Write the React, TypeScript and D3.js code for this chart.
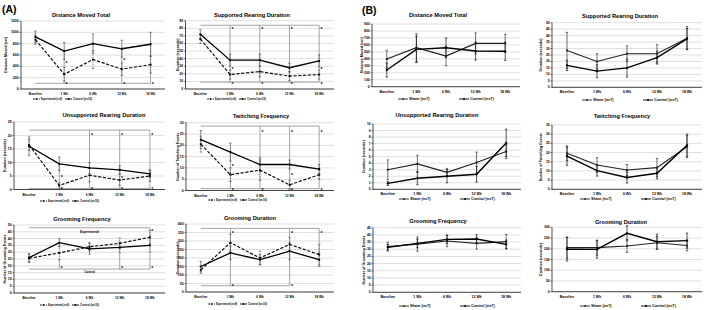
import React from "react";
import * as d3 from "d3";

const categories = ["Baseline", "1 Wk", "6 Wk", "12 Wk", "18 Wk"];
const legendA = ["Experimental (n=8)", "Control (n=10)"];
const legendB = ["Sham (n=7)", "Control (n=7)"];
const titles = [
  "Distance Moved Total",
  "Supported Rearing Duration",
  "Unsupported Rearing Duration",
  "Twitching Frequency",
  "Grooming Frequency",
  "Grooming Duration",
];
const yTitles = [
  "Distance Moved (cm)",
  "Duration (seconds)",
  "Duration (seconds)",
  "Number of Twitching Events",
  "Number of Grooming Events",
  "Duration (seconds)",
];

const aYMax = [1200, 90, 25, 30, 50, 400];
const aYStep = [200, 10, 5, 5, 5, 50];
const bYMax = [900, 50, 10, 35, 45, 300];
const bYStep = [100, 5, 1, 5, 5, 50];

// ---- Part A: Experimental vs Control ----
const distExpMean = [870, 260, 520, 350, 430];
const distExpErr = [80, 120, 160, 110, 150];
const distCtlMean = [920, 670, 800, 710, 790];
const distCtlErr = [100, 150, 170, 150, 210];

const supExpMean = [66, 19, 23, 17, 19];
const supExpErr = [6, 6, 7, 6, 6];
const supCtlMean = [72, 38, 38, 28, 37];
const supCtlErr = [6, 8, 8, 6, 8];

const unsExpMean = [16.5, 1.5, 5.3, 3.5, 5];
const unsExpErr = [2, 1, 2.5, 2, 2];
const unsCtlMean = [16, 9.5, 8, 7.3, 5.8];
const unsCtlErr = [3.5, 2.5, 2, 1.5, 1.5];

const twExpMean = [20.5, 7, 9, 2.5, 7];
const twExpErr = [3.5, 3, 4.5, 2, 2];
const twCtlMean = [22.5, 17, 11.5, 11.5, 9.5];
const twCtlErr = [4, 4, 3, 2, 2];

const grfExpMean = [25.5, 29.5, 34, 36.5, 41];
const grfExpErr = [3, 5, 3, 4, 5];
const grfCtlMean = [26, 37, 32.5, 33.5, 35];
const grfCtlErr = [3, 3, 4, 4, 5];

const grdExpMean = [130, 290, 200, 280, 220];
const grdExpErr = [20, 50, 40, 40, 60];
const grdCtlMean = [150, 230, 190, 240, 190];
const grdCtlErr = [30, 40, 30, 50, 40];

// significance brackets: [fromCat, toCat, value]
const aBrackets = [
  [[0, 4, 100]],
  [[0, 4, 84], [0, 4, 9]],
  [[0, 4, 22], [0, 4, 0.4]],
  [[0, 4, 28.5], [0, 4, 0.8]],
  [[0, 4, 48], [0, 4, 17.6]],
  [[0, 4, 374], [0, 3, 37]],
];
// verticals: [cat, v1, v2]
const aVerticals = [
  [[1, 100, 670], [3, 100, 710], [4, 100, 790]],
  [[1, 84, 9], [2, 84, 9], [3, 84, 9], [4, 84, 9]],
  [[2, 22, 8], [3, 22, 7.3], [4, 22, 5.8], [1, 0.4, 9.5], [2, 0.4, 5.3], [3, 0.4, 7.3], [4, 0.4, 5]],
  [[2, 28.5, 11.5], [3, 28.5, 11.5], [4, 28.5, 9.5], [1, 0.8, 17], [2, 0.8, 9], [3, 0.8, 11.5], [4, 0.8, 7]],
  [[4, 48, 41], [1, 17.6, 24.5], [3, 17.6, 29], [4, 17.6, 29]],
  [[1, 37, 374], [3, 37, 374], [4, 374, 220]],
];
// stars: [cat, value]
const aStars = [
  [[1, 100], [3, 100], [4, 100], [1, 470], [3, 530]],
  [[1, 80], [2, 80], [3, 80], [4, 80], [1, 8], [2, 8], [3, 8], [4, 8], [1, 27], [4, 27]],
  [[2, 20.5], [3, 20.5], [4, 20.5], [1, 0.3], [2, 0.3], [3, 0.3], [4, 0.3], [1, 5], [3, 4.3]],
  [[2, 26], [3, 26], [4, 26], [1, 0.5], [2, 0.5], [3, 0.5], [4, 0.5], [1, 11], [3, 7]],
  [[4, 46], [1, 18.5], [3, 18.5], [4, 18.5]],
  [[1, 353], [3, 353], [4, 353], [1, 37], [3, 37]],
];
const grfNotes = ["Experimental", "Control"];
const grfNoteCats = [2, 2];
const grfNoteValues = [45, 15.4];

// ---- Part B: Sham vs Control ----
const bDistShamMean = [397, 560, 440, 622, 622];
const bDistShamErr = [125, 200, 140, 150, 130];
const bDistCtlMean = [239, 536, 560, 512, 508];
const bDistCtlErr = [100, 190, 140, 130, 130];

const bSupShamMean = [28.5, 20, 26, 26, 38];
const bSupShamErr = [14, 6, 6, 7, 9];
const bSupCtlMean = [17, 12.5, 15, 23, 37.5];
const bSupCtlErr = [4, 5, 7, 5, 8];

const bUnsShamMean = [3, 3.9, 2.6, 4.1, 5.8];
const bUnsShamErr = [1.5, 1.3, 0.6, 1.6, 1.1];
const bUnsCtlMean = [0.9, 1.7, 2.0, 2.3, 7.1];
const bUnsCtlErr = [0.3, 1, 1, 1.2, 2.1];

const bTwShamMean = [19.6, 13.2, 10.5, 11.8, 23.2];
const bTwShamErr = [4, 4, 3, 5, 6];
const bTwCtlMean = [18.1, 10.2, 6.4, 8.7, 24];
const bTwCtlErr = [5, 3, 3, 3, 6];

const bGrfShamMean = [31.8, 33.6, 35.7, 34.1, 35.3];
const bGrfShamErr = [3, 5, 4, 4, 5];
const bGrfCtlMean = [31.3, 34.1, 36.9, 37.1, 33.4];
const bGrfCtlErr = [2, 3, 3, 3, 3];

const bGrdShamMean = [205, 205, 213, 228, 215];
const bGrdShamErr = [50, 35, 30, 30, 25];
const bGrdCtlMean = [198, 197, 272, 233, 238];
const bGrdCtlErr = [55, 40, 35, 35, 35];

// ---- layout (positions only) ----
const layA = [
  { l: 21, r: 165, t: 21, b: 89, tx: 81, ty: 17, ytx: 5.5, ly: 99, lx: 33 },
  { l: 185.5, r: 334, t: 20.7, b: 89, tx: 252, ty: 17, ytx: 178, ly: 99, lx: 207 },
  { l: 14, r: 165, t: 122, b: 189.5, tx: 104, ty: 117, ytx: 5, ly: 201, lx: 40 },
  { l: 186, r: 334, t: 122.7, b: 190.5, tx: 261, ty: 118, ytx: 178, ly: 200, lx: 208 },
  { l: 14, r: 165, t: 225, b: 293, tx: 82, ty: 221, ytx: 5, ly: 305, lx: 40 },
  { l: 186, r: 334, t: 224, b: 292, tx: 250, ty: 220, ytx: 178, ly: 304, lx: 208 },
];
const layB = [
  { l: 372, r: 520, t: 24, b: 86.7, tx: 438, ty: 17, ytx: 362, ly: 99, lx: 398 },
  { l: 552, r: 702, t: 22.7, b: 87.3, tx: 620, ty: 17.7, ytx: 541, ly: 100, lx: 582 },
  { l: 373, r: 521, t: 124, b: 189.3, tx: 437, ty: 117, ytx: 364, ly: 199, lx: 399 },
  { l: 552, r: 702, t: 125, b: 189.3, tx: 622, ty: 117.7, ytx: 541, ly: 199, lx: 580 },
  { l: 373, r: 521, t: 227.7, b: 292.3, tx: 438, ty: 222.7, ytx: 364, ly: 306, lx: 399 },
  { l: 552, r: 702, t: 227.3, b: 291.7, tx: 621, ty: 223.7, ytx: 541, ly: 306, lx: 580 },
];
const legendATextLen = [21, 19];

const FONT = "'Liberation Sans', Arial, Helvetica, sans-serif";

type Kind = "exp" | "ctl" | "sham" | "bctl";
const styles: Record<Kind, { stroke: string; width: number; dash?: string; err: string; errDash?: string; marker: "sq" | "dia" }> = {
  exp: { stroke: "#111", width: 1.2, dash: "3.2,1.6", err: "#555", errDash: "1.6,1", marker: "sq" },
  ctl: { stroke: "#000", width: 1.3, err: "#555", marker: "sq" },
  sham: { stroke: "#222", width: 1.15, err: "#333", marker: "sq" },
  bctl: { stroke: "#000", width: 1.4, err: "#111", marker: "dia" },
};

function Marker({ x, y, kind, s = 1.9 }: { x: number; y: number; kind: Kind; s?: number }) {
  const st = styles[kind];
  if (st.marker === "dia") {
    const h = s * 0.75;
    return <path d={`M${x},${y - h}L${x + h},${y}L${x},${y + h}L${x - h},${y}Z`} fill={st.stroke} />;
  }
  return <rect x={x - s / 2} y={y - s / 2} width={s} height={s} fill={st.stroke} />;
}

function Panel(props: any) {
  const { lay, idx, part, series } = props;
  const yMax = part === "A" ? aYMax[idx] : bYMax[idx];
  const yStep = part === "A" ? aYStep[idx] : bYStep[idx];
  const x = d3.scaleBand<string>().domain(categories).range([lay.l, lay.r]);
  const cx = (i: number) => (x(categories[i]) as number) + x.bandwidth() / 2;
  const y = d3.scaleLinear().domain([0, yMax]).range([lay.b, lay.t]);
  const ticks = d3.range(0, yMax + yStep / 2, yStep);
  const line = d3
    .line<number>()
    .x((_, i) => cx(i))
    .y((v) => y(v));

  const tickFs = part === "A" ? 3.5 : 3.4;
  const xFs = part === "A" ? 3.2 : 3.5;
  const legendLabels = part === "A" ? legendA : legendB;
  const legFs = part === "A" ? 3.2 : 3.8;
  const ctlOffset = part === "A" ? 32 : 61;

  return (
    <g fontFamily={FONT}>
      <text x={lay.tx} y={lay.ty} fontSize={5.7} fontWeight={700} textAnchor="middle" fill="#000">
        {titles[idx]}
      </text>
      {ticks.map((t) => (
        <line key={"g" + t} x1={lay.l} x2={lay.r} y1={y(t)} y2={y(t)} stroke="#c9c9c9" strokeWidth={0.6} />
      ))}
      {ticks.map((t) => (
        <g key={"t" + t}>
          <line x1={lay.l - 1.5} x2={lay.l} y1={y(t)} y2={y(t)} stroke="#000" strokeWidth={0.5} />
          <text x={lay.l - 2.3} y={y(t)} fontSize={tickFs} fontWeight={700} textAnchor="end" dominantBaseline="central">
            {t}
          </text>
        </g>
      ))}
      <text
        transform={`translate(${lay.ytx},${(lay.t + lay.b) / 2}) rotate(-90)`}
        fontSize={3.6}
        fontWeight={700}
        textAnchor="middle"
        dominantBaseline="central"
      >
        {yTitles[idx]}
      </text>
      {categories.map((c, i) => (
        <text key={c} x={cx(i)} y={lay.b + 6} fontSize={xFs} fontWeight={700} textAnchor="middle">
          {c}
        </text>
      ))}
      {part === "A" &&
        aBrackets[idx].map((b, k) => (
          <line key={"b" + k} x1={cx(b[0])} x2={cx(b[1])} y1={y(b[2])} y2={y(b[2])} stroke="#9a9a9a" strokeWidth={0.9} />
        ))}
      {part === "A" &&
        aVerticals[idx].map((v, k) => (
          <line key={"v" + k} x1={cx(v[0])} x2={cx(v[0])} y1={y(v[1])} y2={y(v[2])} stroke="#9a9a9a" strokeWidth={0.9} />
        ))}
      {part === "A" &&
        idx === 4 &&
        grfNotes.map((n, k) => (
          <text key={n} x={cx(grfNoteCats[k])} y={y(grfNoteValues[k])} fontSize={3} fontWeight={700} textAnchor="middle" dominantBaseline="central">
            {n}
          </text>
        ))}
      {series.map((s: any, si: number) =>
        s.mean.map((m: number, i: number) => {
          const st = styles[s.kind as Kind];
          const lo = y(Math.max(0, m - s.err[i]));
          const hi = y(m + s.err[i]);
          const X = cx(i);
          return (
            <g key={`e${si}-${i}`} stroke={st.err} strokeWidth={0.7}>
              <line x1={X} x2={X} y1={lo} y2={hi} strokeDasharray={st.errDash} />
              <line x1={X - 1.2} x2={X + 1.2} y1={lo} y2={lo} />
              <line x1={X - 1.2} x2={X + 1.2} y1={hi} y2={hi} />
            </g>
          );
        })
      )}
      {series.map((s: any, si: number) => {
        const st = styles[s.kind as Kind];
        return (
          <path key={"l" + si} d={line(s.mean) || ""} fill="none" stroke={st.stroke} strokeWidth={st.width} strokeDasharray={st.dash} />
        );
      })}
      {series.map((s: any, si: number) =>
        s.mean.map((m: number, i: number) => <Marker key={`m${si}-${i}`} x={cx(i)} y={y(m)} kind={s.kind} />)
      )}
      {part === "A" &&
        aStars[idx].map((s, k) => (
          <text key={"s" + k} x={cx(s[0]) + 1.4} y={y(s[1]) + 2.6} fontSize={5} fontWeight={700}>
            *
          </text>
        ))}
      <line x1={lay.l} x2={lay.l} y1={lay.t} y2={lay.b} stroke="#000" strokeWidth={0.7} />
      <line x1={lay.l} x2={lay.r} y1={lay.b} y2={lay.b} stroke="#000" strokeWidth={0.7} />
      {series.map((s: any, si: number) => {
        const st = styles[s.kind as Kind];
        const x0 = lay.lx + (si === 0 ? 0 : ctlOffset);
        const len = part === "A" ? 7 : 10;
        const extra =
          part === "A" ? { textLength: legendATextLen[si], lengthAdjust: "spacingAndGlyphs" } : {};
        return (
          <g key={"lg" + si}>
            <line x1={x0} x2={x0 + len} y1={lay.ly} y2={lay.ly} stroke={st.stroke} strokeWidth={0.9} strokeDasharray={st.dash ? "2,1" : undefined} />
            <Marker x={x0 + len / 2} y={lay.ly} kind={s.kind} s={1.6} />
            <text x={x0 + len + 1} y={lay.ly} fontSize={legFs} fontWeight={700} dominantBaseline="central" {...extra}>
              {legendLabels[si]}
            </text>
          </g>
        );
      })}
    </g>
  );
}

export default function App() {
  const aSeries = [
    [{ mean: distExpMean, err: distExpErr, kind: "exp" }, { mean: distCtlMean, err: distCtlErr, kind: "ctl" }],
    [{ mean: supExpMean, err: supExpErr, kind: "exp" }, { mean: supCtlMean, err: supCtlErr, kind: "ctl" }],
    [{ mean: unsExpMean, err: unsExpErr, kind: "exp" }, { mean: unsCtlMean, err: unsCtlErr, kind: "ctl" }],
    [{ mean: twExpMean, err: twExpErr, kind: "exp" }, { mean: twCtlMean, err: twCtlErr, kind: "ctl" }],
    [{ mean: grfExpMean, err: grfExpErr, kind: "exp" }, { mean: grfCtlMean, err: grfCtlErr, kind: "ctl" }],
    [{ mean: grdExpMean, err: grdExpErr, kind: "exp" }, { mean: grdCtlMean, err: grdCtlErr, kind: "ctl" }],
  ];
  const bSeries = [
    [{ mean: bDistShamMean, err: bDistShamErr, kind: "sham" }, { mean: bDistCtlMean, err: bDistCtlErr, kind: "bctl" }],
    [{ mean: bSupShamMean, err: bSupShamErr, kind: "sham" }, { mean: bSupCtlMean, err: bSupCtlErr, kind: "bctl" }],
    [{ mean: bUnsShamMean, err: bUnsShamErr, kind: "sham" }, { mean: bUnsCtlMean, err: bUnsCtlErr, kind: "bctl" }],
    [{ mean: bTwShamMean, err: bTwShamErr, kind: "sham" }, { mean: bTwCtlMean, err: bTwCtlErr, kind: "bctl" }],
    [{ mean: bGrfShamMean, err: bGrfShamErr, kind: "sham" }, { mean: bGrfCtlMean, err: bGrfCtlErr, kind: "bctl" }],
    [{ mean: bGrdShamMean, err: bGrdShamErr, kind: "sham" }, { mean: bGrdCtlMean, err: bGrdCtlErr, kind: "bctl" }],
  ];
  return (
    <div style={{ position: "absolute", left: 0, top: 0 }}>
      <svg width={709} height={310} style={{ display: "block", background: "#fff" }}>
        <text x={2} y={13} fontFamily={FONT} fontSize={10.5} fontWeight={700}>
          (A)
        </text>
        <text x={362} y={14} fontFamily={FONT} fontSize={10.5} fontWeight={700}>
          (B)
        </text>
        {layA.map((lay, i) => (
          <Panel key={"A" + i} lay={lay} idx={i} part="A" series={aSeries[i]} />
        ))}
        {layB.map((lay, i) => (
          <Panel key={"B" + i} lay={lay} idx={i} part="B" series={bSeries[i]} />
        ))}
      </svg>
    </div>
  );
}
